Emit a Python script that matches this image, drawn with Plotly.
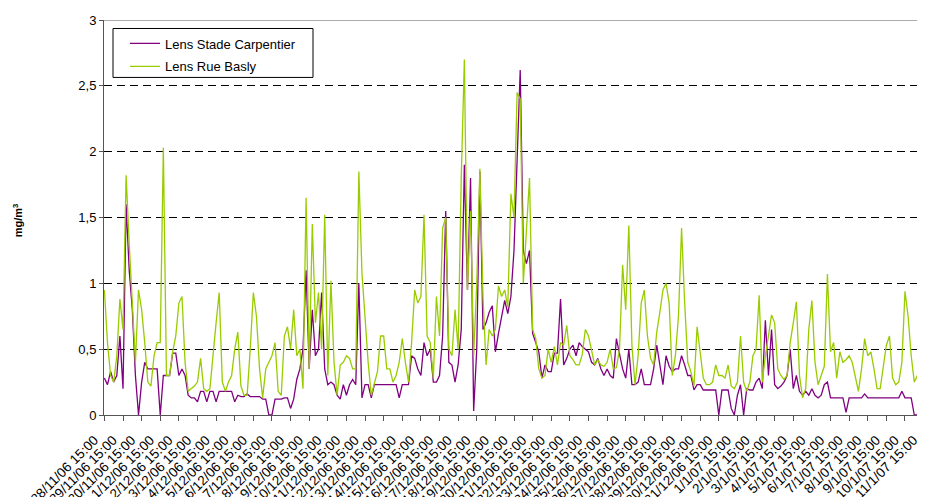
import plotly.graph_objects as go

# Measurement times: hours after 28/11/06 15:00 (4-hourly readings)
HOURS = list(range(0, 1057, 4))

# Lens Stade Carpentier (mg/m3)
carpentier = [
    0.28, 0.23, 0.33, 0.25, 0.30, 0.60, 0.20, 1.60, 1.10, 0.80,
    0.30, 0.00, 0.25, 0.40, 0.35, 0.35, 0.35, 0.35, 0.00, 0.30,
    0.30, 0.30, 0.47, 0.47, 0.30, 0.35, 0.30, 0.15, 0.13, 0.13,
    0.10, 0.18, 0.18, 0.10, 0.18, 0.18, 0.10, 0.18, 0.18, 0.18,
    0.18, 0.18, 0.10, 0.15, 0.14, 0.14, 0.16, 0.14, 0.14, 0.14,
    0.14, 0.12, 0.12, 0.00, 0.00, 0.12, 0.12, 0.12, 0.13, 0.13,
    0.05, 0.12, 0.27, 0.35, 0.50, 1.10, 0.35, 0.80, 0.45, 0.50,
    0.93, 0.35, 0.23, 0.25, 0.23, 0.15, 0.12, 0.23, 0.15, 0.23,
    0.27, 0.23, 1.00, 0.13, 0.23, 0.23, 0.13, 0.23, 0.23, 0.23,
    0.23, 0.23, 0.23, 0.23, 0.23, 0.13, 0.23, 0.23, 0.23, 0.45,
    0.43, 0.35, 0.30, 0.55, 0.45, 0.50, 0.25, 0.25, 0.30, 0.60,
    1.55, 0.40, 0.38, 0.25, 0.38, 0.65, 1.90, 0.95, 1.80, 0.03,
    0.50, 1.85, 0.65, 0.70, 0.78, 0.83, 0.48, 0.62, 0.75, 0.87,
    0.77, 0.90, 1.25, 2.00, 2.62, 1.25, 1.15, 1.25, 0.62, 0.55,
    0.48, 0.28, 0.38, 0.33, 0.33, 0.47, 0.47, 0.88, 0.38, 0.43,
    0.50, 0.53, 0.45, 0.55, 0.52, 0.50, 0.48, 0.40, 0.38, 0.43,
    0.35, 0.30, 0.35, 0.30, 0.28, 0.58, 0.45, 0.35, 0.28, 0.50,
    0.23, 0.23, 0.25, 0.35, 0.23, 0.23, 0.23, 0.35, 0.53, 0.38,
    0.23, 0.45, 0.37, 0.33, 0.35, 0.35, 0.45, 0.38, 0.30, 0.30,
    0.19, 0.23, 0.23, 0.19, 0.19, 0.19, 0.19, 0.19, 0.00, 0.19,
    0.19, 0.19, 0.05, 0.00, 0.15, 0.23, 0.00, 0.20, 0.19, 0.19,
    0.25, 0.28, 0.20, 0.72, 0.30, 0.65, 0.23, 0.20, 0.22, 0.25,
    0.30, 0.50, 0.20, 0.30, 0.18, 0.15, 0.18, 0.15, 0.20, 0.15,
    0.13, 0.15, 0.23, 0.25, 0.13, 0.13, 0.13, 0.13, 0.13, 0.02,
    0.13, 0.13, 0.13, 0.13, 0.13, 0.16, 0.13, 0.13, 0.13, 0.13,
    0.13, 0.13, 0.13, 0.13, 0.13, 0.13, 0.13, 0.18, 0.13, 0.13,
    0.13, 0.00, 0.00, 0.20,
]

# Lens Rue Basly (mg/m3)
basly = [
    0.95, 0.55, 0.30, 0.25, 0.45, 0.88, 0.65, 1.82, 1.30, 0.85,
    0.40, 0.95, 0.80, 0.55, 0.25, 0.22, 0.45, 0.55, 0.55, 2.03,
    0.30, 0.30, 0.48, 0.60, 0.85, 0.90, 0.40, 0.18, 0.20, 0.22,
    0.25, 0.43, 0.20, 0.18, 0.20, 0.48, 0.70, 0.93, 0.25, 0.18,
    0.25, 0.30, 0.50, 0.63, 0.22, 0.15, 0.15, 0.50, 0.93, 0.75,
    0.35, 0.13, 0.35, 0.40, 0.45, 0.55, 0.18, 0.15, 0.60, 0.67,
    0.50, 0.80, 0.45, 0.50, 0.20, 1.65, 0.35, 1.45, 0.70, 0.93,
    0.50, 1.52, 0.30, 1.02, 0.40, 0.15, 0.38, 0.40, 0.45, 0.43,
    0.35, 0.35, 1.85, 1.08, 0.70, 0.40, 0.15, 0.25, 0.33, 0.60,
    0.60, 0.35, 0.35, 0.25, 0.30, 0.40, 0.58, 0.40, 0.25, 0.55,
    0.95, 0.85, 0.90, 1.52, 0.60, 0.55, 0.28, 0.90, 0.60, 1.42,
    1.50, 0.50, 0.45, 0.80, 0.50, 1.80, 2.70, 0.95, 1.55, 0.45,
    1.00, 1.87, 0.90, 0.38, 0.65, 0.60, 0.65, 0.98, 0.90, 0.95,
    0.82, 1.68, 1.50, 2.45, 2.40, 1.00, 1.45, 1.80, 0.65, 0.58,
    0.35, 0.28, 0.30, 0.50, 0.40, 0.52, 0.38, 0.55, 0.53, 0.68,
    0.45, 0.42, 0.38, 0.38, 0.46, 0.65, 0.60, 0.50, 0.38, 0.42,
    0.38, 0.37, 0.40, 0.50, 0.35, 0.36, 0.50, 1.14, 0.80, 1.44,
    0.53, 0.23, 0.45, 0.85, 0.95, 0.60, 0.43, 0.38, 0.63, 0.78,
    0.95, 1.00, 0.85, 0.30, 0.45, 0.75, 1.42, 0.85, 0.40, 0.33,
    0.22, 0.67, 0.45, 0.28, 0.23, 0.23, 0.25, 0.38, 0.30, 0.30,
    0.28, 0.38, 0.22, 0.20, 0.25, 0.60, 0.25, 0.18, 0.25, 0.45,
    0.50, 0.91, 0.25, 0.45, 0.60, 0.76, 0.70, 0.35, 0.30, 0.27,
    0.30, 0.55, 0.70, 0.86, 0.30, 0.13, 0.20, 0.65, 0.87, 0.40,
    0.23, 0.30, 0.37, 1.07, 0.48, 0.55, 0.28, 0.48, 0.40, 0.42,
    0.45, 0.40, 0.30, 0.18, 0.35, 0.58, 0.45, 0.48, 0.35, 0.20,
    0.20, 0.38, 0.53, 0.60, 0.28, 0.23, 0.25, 0.40, 0.94, 0.75,
    0.45, 0.25, 0.30, 0.35, 0.62,
]

# Daily tick labels (every 24 h, at 15:00)
TICK_HOURS = list(range(0, 1057, 24))
TICK_LABELS = [
    "28/11/06 15:00", "29/11/06 15:00", "30/11/06 15:00", "1/12/06 15:00",
    "2/12/06 15:00", "3/12/06 15:00", "4/12/06 15:00", "5/12/06 15:00",
    "6/12/06 15:00", "7/12/06 15:00", "8/12/06 15:00", "9/12/06 15:00",
    "10/12/06 15:00", "11/12/06 15:00", "12/12/06 15:00", "13/12/06 15:00",
    "14/12/06 15:00", "15/12/06 15:00", "16/12/06 15:00", "17/12/06 15:00",
    "18/12/06 15:00", "19/12/06 15:00", "20/12/06 15:00", "21/12/06 15:00",
    "22/12/06 15:00", "23/12/06 15:00", "24/12/06 15:00", "25/12/06 15:00",
    "26/12/06 15:00", "27/12/06 15:00", "28/12/06 15:00", "29/12/06 15:00",
    "30/12/06 15:00", "31/12/06 15:00", "1/1/07 15:00", "2/1/07 15:00",
    "3/1/07 15:00", "4/1/07 15:00", "5/1/07 15:00", "6/1/07 15:00",
    "7/1/07 15:00", "8/1/07 15:00", "9/1/07 15:00", "10/1/07 15:00",
    "11/1/07 15:00",
]
Y_TICKS = [0, 0.5, 1, 1.5, 2, 2.5, 3]
Y_LABELS = ["0", "0,5", "1", "1,5", "2", "2,5", "3"]

FONT = "Liberation Sans, Arial, sans-serif"

# page body has an 8px default margin: the figure is sized/offset for it
PLOT_W = 820.0
PLOT_H = 395.5


def px_x(page_x):
    return (page_x - 104) / PLOT_W


def px_y(page_y):
    return (415 - page_y) / PLOT_H


fig = go.Figure()
fig.add_trace(go.Scatter(x=HOURS, y=carpentier, mode="lines",
                         name="Lens Stade Carpentier", legendgroup="a",
                         line=dict(color="#800080", width=1.3)))
fig.add_trace(go.Scatter(x=HOURS, y=basly, mode="lines",
                         name="Lens Rue Basly", legendgroup="b",
                         line=dict(color="#99CC00", width=1.3)))

fig.update_layout(
    width=917, height=489,
    margin=dict(l=96, r=1, t=11.5, b=82, autoexpand=False),
    paper_bgcolor="white", plot_bgcolor="white",
    font=dict(family=FONT, size=12, color="black"),
    showlegend=True,
    legend=dict(x=px_x(125), y=px_y(28), xanchor="left", yanchor="top",
                bgcolor="rgba(0,0,0,0)", borderwidth=0,
                font=dict(size=13), tracegroupgap=3, itemwidth=30),
    xaxis=dict(range=[-0.5, 1056.5], tickmode="array", tickvals=TICK_HOURS,
               ticktext=TICK_LABELS, tickangle=-45, ticks="outside",
               ticklen=5, tickcolor="#555", showgrid=False, zeroline=False,
               showline=True, linecolor="#555", linewidth=1,
               tickfont=dict(size=13.5), ticklabelshift=-10,
               ticklabelstandoff=6, ticklabeloverflow="allow",
               automargin=False),
    yaxis=dict(range=[0, 3], tickmode="array", tickvals=Y_TICKS,
               ticktext=Y_LABELS, ticks="outside", ticklen=4,
               tickcolor="#555", showgrid=True, gridcolor="black",
               gridwidth=1, griddash="8px,5px", zeroline=False,
               showline=True, linecolor="#555", linewidth=1,
               tickfont=dict(size=13), automargin=False),
    shapes=[
        dict(type="line", xref="paper", yref="y", x0=0, x1=1, y0=3, y1=3,
             line=dict(color="#909090", width=1.5)),
        dict(type="rect", xref="paper", yref="paper",
             x0=px_x(113), x1=px_x(313), y0=px_y(77), y1=px_y(28),
             line=dict(color="black", width=1), fillcolor="white",
             layer="above"),
    ],
    annotations=[dict(text="<b>mg/m<sup>3</sup></b>", xref="paper", yref="paper",
                      x=px_x(18), y=px_y(220), xanchor="center", yanchor="middle",
                      textangle=-90, showarrow=False, font=dict(size=11))],
)

fig.write_html("out.html")
